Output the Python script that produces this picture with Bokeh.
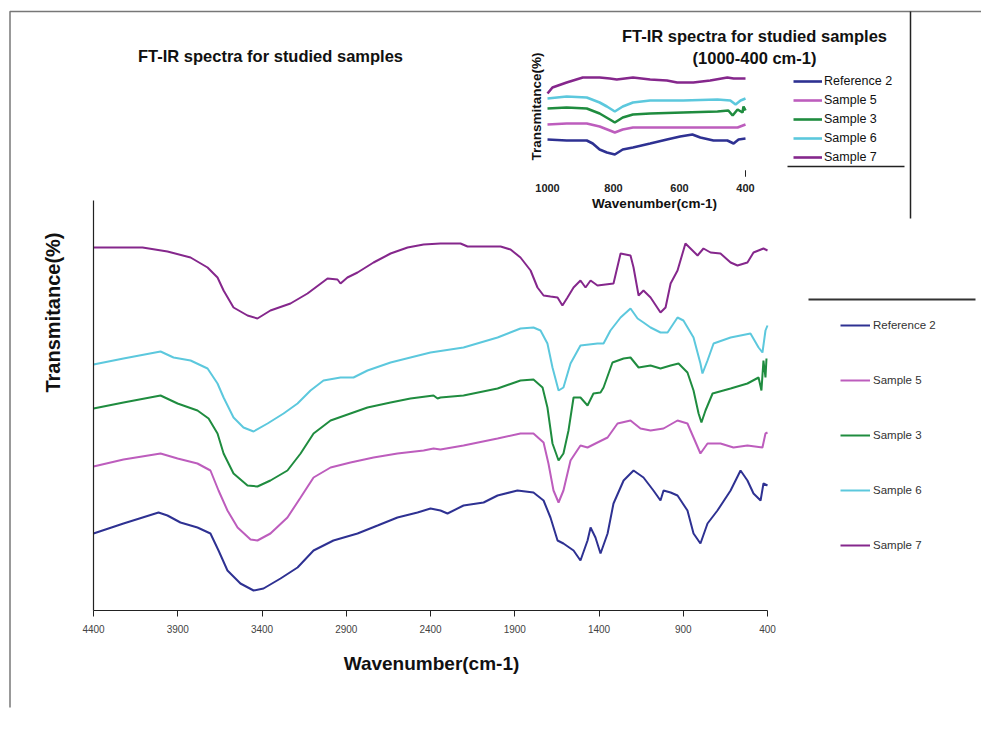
import math
from bokeh.plotting import figure
from bokeh.models import (Range1d, FixedTicker, Legend, LegendItem, Label,
                          BoxAnnotation)
from bokeh.embed import file_html
from bokeh.resources import INLINE

# ---------------- data : main spectra (wavenumber cm-1, transmittance, offset a.u.)
ref2_wn = [4400,4222,4014,3961,3884,3783,3706,3658,3605,3528,3450,3391,3290,3189,3094,2976,2833,2714,2596,2477,
           2400,2341,2299,2204,2085,2002,1884,1789,1729,1688,1646,1611,1551,1510,1468,1450,1421,1391,1349,1314,
           1254,1195,1136,1077,1035,1017,975,934,875,839,798,756,697,619,560,519,483,441,424,400]
ref2_t = [77,87,98,95,88,83,77,60,40,27,20,22,32,43,60,70,77,85,93,98,
          102,100,97,105,108,115,120,118,110,93,70,67,60,50,70,83,73,57,77,107,
          130,140,133,120,110,120,118,115,100,77,67,87,100,120,140,130,117,110,127,125]

s5_wn = [4400,4222,4002,3901,3783,3706,3658,3605,3545,3468,3427,3350,3249,3171,3094,2993,2875,2738,2596,2441,
         2382,2341,2204,2002,1866,1789,1729,1700,1670,1640,1611,1569,1510,1468,1409,1349,1290,1213,1154,1094,
         1017,934,875,839,798,756,679,602,519,430,412,400]
s5_t = [144,151,157,152,147,140,120,100,83,71,70,77,93,113,133,143,148,153,157,160,
        162,161,165,172,177,177,168,147,120,108,120,150,165,163,168,173,187,190,182,180,
        182,190,187,173,157,167,167,163,165,163,177,178]

s3_wn = [4400,4222,4002,3901,3783,3717,3664,3628,3569,3486,3427,3350,3249,3171,3094,2993,2875,2774,2637,2519,
         2382,2358,2341,2204,2002,1866,1789,1735,1706,1676,1640,1611,1581,1551,1510,1468,1433,1391,1373,1320,
         1254,1213,1165,1094,1035,975,928,875,839,809,792,768,726,619,519,453,436,424,412,406]
s3_t = [202,208,215,207,200,192,177,157,137,125,124,130,140,157,177,190,197,203,208,212,
        215,212,213,215,222,230,231,223,203,167,150,157,180,213,213,205,217,218,223,248,
        252,253,243,245,242,245,247,238,220,197,188,200,217,222,227,233,220,250,233,252]

s6_wn = [4400,4222,4002,3925,3824,3723,3664,3628,3569,3510,3450,3367,3272,3189,3112,3035,2934,2857,2774,2637,
         2519,2400,2204,2002,1866,1789,1747,1706,1676,1640,1611,1569,1510,1409,1373,1332,1272,1213,1171,1136,
         1094,1035,993,934,899,839,798,786,756,720,619,501,453,430,412,400]
s6_t = [246,252,259,253,250,242,227,213,193,183,179,187,197,207,220,230,233,233,240,248,
        253,258,263,273,282,283,280,267,243,220,223,247,265,267,267,280,293,302,292,288,
        283,278,278,293,290,273,247,237,250,267,273,277,263,258,280,285]

s7_wn = [4400,4109,3961,3824,3723,3664,3628,3569,3486,3427,3350,3231,3130,3011,2952,2934,2893,2833,2738,2637,
         2536,2441,2341,2222,2180,1984,1925,1866,1806,1765,1729,1688,1646,1617,1587,1551,1510,1480,1450,1409,
         1314,1272,1213,1195,1165,1136,1094,1035,1005,975,934,887,857,815,780,738,679,619,578,519,
         483,424,400]
s7_t = [363,363,359,353,343,333,320,303,295,292,300,307,317,332,331,327,333,338,348,357,
        363,366,367,367,364,364,361,353,340,323,315,314,313,305,313,323,330,323,330,325,
        327,357,355,343,315,320,313,298,303,327,340,367,362,355,362,358,357,348,345,348,
        358,362,360]

# ---------------- data : inset spectra 1000-400 cm-1
ref2_iwn = [1000,942,881,863,842,820,796,772,741,689,638,598,561,537,497,455,436,421,400]
ref2_it = [36,35,35,32,26,23,21,26,28,32,36,39,41,38,35,35,32,36,37]
s5_iwn = [1000,942,881,842,811,796,772,741,638,537,446,424,400]
s5_it = [51,52,52,49,45,43,46,48,48,48,48,48,51]
s3_iwn = [1000,942,881,842,811,796,772,741,689,589,485,452,439,424,409,406,400]
s3_it = [67,68,67,62,56,53,58,61,62,63,64,65,60,66,63,69,65]
s6_iwn = [1000,942,881,842,820,796,772,741,689,589,485,446,430,415,400]
s6_it = [77,79,78,73,69,64,69,73,75,75,76,75,71,75,77]
s7_iwn = [1000,985,942,893,842,811,790,741,689,638,607,558,507,455,436,400]
s7_it = [82,88,93,98,98,97,96,98,96,95,93,93,95,98,97,97]

series_names = ["Reference 2", "Sample 5", "Sample 3", "Sample 6", "Sample 7"]
series_colors = ["#2E3192", "#BD5DBD", "#1F8C3F", "#5CC8DD", "#85278C"]
main_series = [(ref2_wn, ref2_t), (s5_wn, s5_t), (s3_wn, s3_t), (s6_wn, s6_t), (s7_wn, s7_t)]
inset_series = [(ref2_iwn, ref2_it), (s5_iwn, s5_it), (s3_iwn, s3_it), (s6_iwn, s6_it), (s7_iwn, s7_it)]

main_xticks = [4400, 3900, 3400, 2900, 2400, 1900, 1400, 900, 400]
inset_xticks = [1000, 800, 600, 400]

main_title = "FT-IR spectra for studied samples"
inset_title = ["FT-IR spectra for studied samples", "(1000-400 cm-1)"]
x_label = "Wavenumber(cm-1)"
y_label = "Transmitance(%)"

# ---------------- layout geometry (pixels)
W, H = 981, 736
FL, FR, FT, FB = 8, 981, 0, 707     # plot frame covers the whole chart area


def lin(va, pa, vb, pb):
    k = (vb - va) / (pb - pa)
    return lambda px: va + (px - pa) * k


mx = lin(4400, 93, 400, 767)      # main x  (px -> cm-1)
my = lin(0, 610, 410, 200)        # main y  (px -> value)
ix = lin(1000, 547, 400, 745)     # inset x
iy = lin(0, 175, 1, 174)          # inset y

FONT = "Liberation Sans"

p = figure(width=W, height=H, output_backend="svg", toolbar_location=None,
           x_range=Range1d(mx(FL), mx(FR)), y_range=Range1d(my(FB), my(FT)),
           min_border_left=FL, min_border_right=W - FR, min_border_top=FT,
           min_border_bottom=H - FB)
p.extra_x_ranges = {"ix": Range1d(ix(FL), ix(FR))}
p.extra_y_ranges = {"iy": Range1d(iy(FB), iy(FT))}
p.grid.visible = False
p.outline_line_color = None
p.background_fill_color = "white"
p.border_fill_color = "white"

# axes, drawn at the main plot's origin inside the chart area
xa = p.xaxis[0]
xa.fixed_location = 0
xa.ticker = FixedTicker(ticks=main_xticks)
xa.bounds = (min(main_xticks), max(main_xticks))
xa.major_tick_in = 0
xa.major_tick_out = 6
xa.minor_tick_out = 0
xa.minor_tick_in = 0
xa.major_label_standoff = 8
xa.major_label_text_font = FONT
xa.major_label_text_font_size = "10px"
xa.major_label_text_color = "#444444"
xa.axis_line_color = "#222222"
xa.axis_line_width = 1.2
xa.major_tick_line_color = "#222222"

ya = p.yaxis[0]
ya.fixed_location = max(main_xticks)
ya.ticker = FixedTicker(ticks=[])
ya.bounds = (0, 410)
ya.major_tick_out = 0
ya.major_tick_in = 0
ya.minor_tick_out = 0
ya.minor_tick_in = 0
ya.major_label_standoff = 0
ya.axis_line_color = "#222222"
ya.axis_line_width = 1.2

# main curves
main_renderers = []
for (wn, t), c in zip(main_series, series_colors):
    r = p.line(wn, t, line_color=c, line_width=2)
    main_renderers.append(r)

# inset curves
inset_renderers = []
for (wn, t), c in zip(inset_series, series_colors):
    r = p.line(wn, t, line_color=c, line_width=2.6, x_range_name="ix", y_range_name="iy")
    inset_renderers.append(r)


# text
def add_label(x, y, text, size, bold=True, rng=None, angle=0, color="#111111", align="center"):
    kw = {}
    if rng == "inset":
        kw = dict(x_range_name="ix", y_range_name="iy")
    p.add_layout(Label(x=x, y=y, text=text, text_font=FONT, text_font_size=size,
                       text_font_style="bold" if bold else "normal", text_color=color,
                       text_align=align, text_baseline="middle", angle=angle, **kw))


add_label(mx(270), my(55), main_title, "16.5px")
add_label(mx(431), my(663), x_label, "19px")
add_label(mx(52), my(312), y_label, "20px", angle=math.pi / 2)
add_label(ix(754), iy(35), inset_title[0], "16.5px", rng="inset")
add_label(ix(754), iy(57), inset_title[1], "16.5px", rng="inset")
for v in inset_xticks:
    add_label(v, iy(187), str(v), "11px", rng="inset", color="#222222")
add_label(ix(654), iy(203), x_label, "13.5px", rng="inset")
add_label(ix(536), iy(106), y_label, "13.5px", rng="inset", angle=math.pi / 2)

# legends
main_leg = Legend(items=[LegendItem(label=n, renderers=[r]) for n, r in zip(series_names, main_renderers)],
                  location=(840 - FL, FB - 555), orientation="vertical",
                  glyph_width=30, glyph_height=20, label_height=20, spacing=35,
                  label_standoff=3, padding=0, margin=0, border_line_color=None,
                  background_fill_alpha=0, label_text_font=FONT, label_text_font_size="11.5px",
                  label_text_color="#333333")
p.add_layout(main_leg)

inset_leg = Legend(items=[LegendItem(label=n, renderers=[r]) for n, r in zip(series_names, inset_renderers)],
                   location=(793 - FL, FB - 164), orientation="vertical",
                   glyph_width=29, glyph_height=14, label_height=14, spacing=5,
                   label_standoff=2, padding=0, margin=0, border_line_color=None,
                   background_fill_alpha=0, label_text_font=FONT, label_text_font_size="12.5px",
                   label_text_color="#111111")
p.add_layout(inset_leg)


# frame / separator lines (canvas pixels)
def canvas_box(l, r, t, b, color, width):
    p.add_layout(BoxAnnotation(left=l, right=r, top=t, bottom=b,
                               left_units="canvas", right_units="canvas",
                               top_units="canvas", bottom_units="canvas",
                               fill_alpha=0, line_color=color, line_width=width, line_alpha=1))


canvas_box(9.5, W + 20, 11, H + 20, "#777777", 1.5)
canvas_box(910, 910, 11, 218, "#222222", 1.5)
canvas_box(808, 975, 299, 299, "#333333", 2)
canvas_box(787, 904, 166, 166, "#222222", 1.5)
canvas_box(745, 745, 170, 176, "#222222", 1)

open("out.html", "w").write(file_html(p, INLINE))
